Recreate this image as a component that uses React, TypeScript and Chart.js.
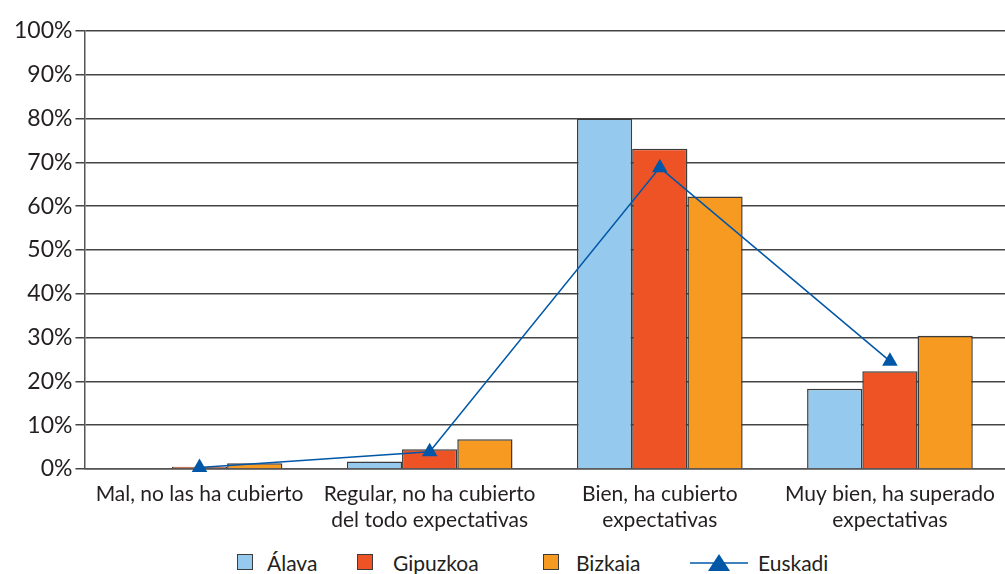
import React, { useEffect, useRef } from "react";
import { Chart, registerables } from "chart.js";

Chart.register(...registerables);

const categories: string[][] = [
  ["Mal, no las ha cubierto"],
  ["Regular, no ha cubierto", "del todo expectativas"],
  ["Bien, ha cubierto", "expectativas"],
  ["Muy bien, ha superado", "expectativas"],
];
const alava = [0, 1.7, 80.0, 18.3];
const gipuzkoa = [0.5, 4.5, 73.1, 22.3];
const bizkaia = [1.3, 6.8, 62.2, 30.4];
const euskadi = [0.3, 3.9, 68.8, 24.6];

const FONT = "Lato, 'Open Sans', sans-serif";
const TEXT = "#231f20";
const C_ALAVA = "#95c9ee";
const C_GIP = "#ee5325";
const C_BIZ = "#f79a22";
const C_EUS = "#0057a8";
const BORDER = "#3c3c3c";

export default function App() {
  const ref = useRef<HTMLCanvasElement>(null);
  useEffect(() => {
    if (!ref.current) return;
    const chart = new Chart(ref.current, {
      type: "bar",
      data: {
        labels: categories,
        datasets: [
          { type: "line", label: "Euskadi", data: euskadi, borderColor: C_EUS, backgroundColor: C_EUS, borderWidth: 1.5, pointStyle: "triangle", pointRadius: 9, pointBorderWidth: 0, order: 0, clip: false } as any,
          { label: "Álava", data: alava, backgroundColor: C_ALAVA, borderColor: BORDER, borderWidth: 1.5, order: 1 },
          { label: "Gipuzkoa", data: gipuzkoa, backgroundColor: C_GIP, borderColor: BORDER, borderWidth: 1.5, order: 1 },
          { label: "Bizkaia", data: bizkaia, backgroundColor: C_BIZ, borderColor: BORDER, borderWidth: 1.5, order: 1 },
        ],
      },
      options: {
        animation: false,
        responsive: false,
        maintainAspectRatio: false,
        layout: { autoPadding: false, padding: { top: 31, right: 0, left: 11, bottom: 11 } },
        datasets: { bar: { categoryPercentage: 0.72, barPercentage: 1 } } as any,
        plugins: { legend: { display: false }, tooltip: { enabled: false } },
        scales: {
          x: {
            grid: { display: false },
            border: { color: "#555", width: 1.5 },
            ticks: { color: TEXT, font: { family: FONT, size: 21, lineHeight: 1.24 }, maxRotation: 0, autoSkip: false, padding: 4 },
          },
          y: {
            min: 0,
            max: 100,
            border: { color: "#555", width: 1.5 },
            grid: { color: "#444", lineWidth: 1.5, tickLength: 9, drawTicks: true },
            ticks: { stepSize: 10, color: TEXT, font: { family: FONT, size: 23 }, padding: 3, callback: (v: any) => v + "%" },
          },
        },
      },
    });
    return () => chart.destroy();
  }, []);

  const box = (c: string) => (
    <span style={{ display: "inline-block", width: 16, height: 16, background: c, border: `1.5px solid ${BORDER}`, boxSizing: "border-box" }} />
  );
  const item = (left: number, marker: React.ReactNode, text: string, gap: number) => (
    <div style={{ position: "absolute", left, top: 550, height: 24, display: "flex", alignItems: "center", whiteSpace: "nowrap" }}>
      {marker}
      <span style={{ marginLeft: gap }}>{text}</span>
    </div>
  );

  return (
    <div style={{ position: "absolute", left: 0, top: 0, width: 1005, height: 574, background: "#fff", fontFamily: FONT, color: TEXT, fontSize: 21 }}>
      <canvas ref={ref} width={1005} height={548} style={{ display: "block" }} />
      {item(237, box(C_ALAVA), "Álava", 14)}
      {item(357, box(C_GIP), "Gipuzkoa", 20)}
      {item(543, box(C_BIZ), "Bizkaia", 17)}
      {item(
        690,
        <svg width="58" height="22" viewBox="0 0 58 22">
          <line x1="0" y1="12" x2="58" y2="12" stroke={C_EUS} strokeWidth="1.5" />
          <polygon points="29,3 40,20 18,20" fill={C_EUS} />
        </svg>,
        "Euskadi",
        10
      )}
    </div>
  );
}
